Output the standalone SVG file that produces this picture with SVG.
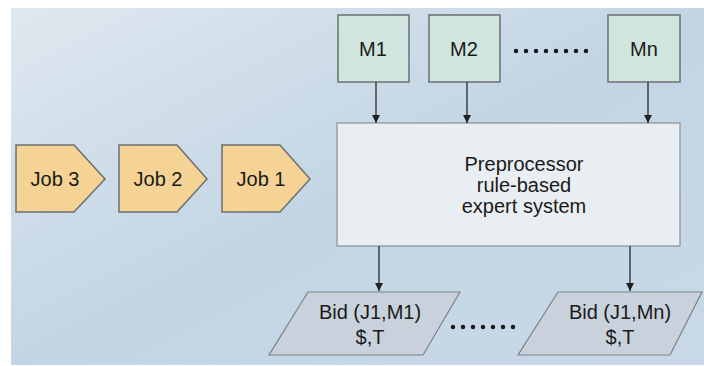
<svg xmlns="http://www.w3.org/2000/svg" width="704" height="366" viewBox="0 0 704 366">
<defs>
<linearGradient id="bg" x1="0" y1="0" x2="1" y2="1">
<stop offset="0" stop-color="#dfe8f0"/>
<stop offset="0.5" stop-color="#c3d5e4"/>
<stop offset="1" stop-color="#c8d8e6"/>
</linearGradient>
<marker id="ah" viewBox="0 0 10 10" refX="10" refY="5" markerWidth="8" markerHeight="8" markerUnits="userSpaceOnUse" orient="auto">
<path d="M0,0 L10,5 L0,10 z" fill="#222"/>
</marker>
<style>
.m{fill:#cfe5dd;stroke:#6b6f72;stroke-width:1.5}
.job{fill:#f4d394;stroke:#6b6f72;stroke-width:1.5}
.bid{fill:#c9d2dc;stroke:#7b8288;stroke-width:1.2}
.pre{fill:#e9eef2;stroke:#8a9095;stroke-width:1.2}
.t{font-family:"Liberation Sans",Arial,sans-serif;font-size:20px;fill:#1a1a1a;text-anchor:middle}
.c{stroke:#2a2a2a;stroke-width:1.3;fill:none;marker-end:url(#ah)}
.dots{stroke:#1a1a1a;stroke-width:4.5;stroke-linecap:round;stroke-dasharray:0 10;fill:none}
</style>
</defs>
<rect x="11" y="8" width="693" height="357" fill="url(#bg)"/>
<g id="job3"><path class="job" d="M16,145 H74 L105,179 L74,212 H16 Z"/><text class="t" x="55" y="186">Job 3</text></g>
<g id="job2"><path class="job" d="M119,145 H177 L207,179 L177,212 H119 Z"/><text class="t" x="158" y="186">Job 2</text></g>
<g id="job1"><path class="job" d="M222,145 H280 L310,179 L280,212 H222 Z"/><text class="t" x="261" y="186">Job 1</text></g>
<g id="m1"><rect class="m" x="338" y="15" width="71" height="67"/><text class="t" x="373" y="56">M1</text></g>
<g id="m2"><rect class="m" x="429" y="15" width="71" height="67"/><text class="t" x="464" y="56">M2</text></g>
<g id="mn"><rect class="m" x="608" y="15" width="72" height="67"/><text class="t" x="644" y="56">Mn</text></g>
<g id="pre"><rect class="pre" x="337" y="123" width="343" height="123"/>
<text class="t" x="524" y="171">Preprocessor</text>
<text class="t" x="524" y="192">rule-based</text>
<text class="t" x="524" y="213">expert system</text></g>
<g id="bid1"><path class="bid" d="M308,292 H460 L423,355 H269 Z"/><text class="t" x="370" y="319">Bid (J1,M1)</text><text class="t" x="370" y="344">$,T</text></g>
<g id="bidn"><path class="bid" d="M558,292 H702 L670,355 H518 Z"/><text class="t" x="620" y="319">Bid (J1,Mn)</text><text class="t" x="620" y="344">$,T</text></g>
<g id="dots">
<path class="dots" d="M516,51 H596"/>
<path class="dots" d="M453,327 H523"/>
</g>
<g id="connectors">
<path class="c" d="M376,82 V123"/>
<path class="c" d="M467,82 V123"/>
<path class="c" d="M648,82 V123"/>
<path class="c" d="M379,246 V291"/>
<path class="c" d="M630,246 V291"/>
</g>
</svg>
